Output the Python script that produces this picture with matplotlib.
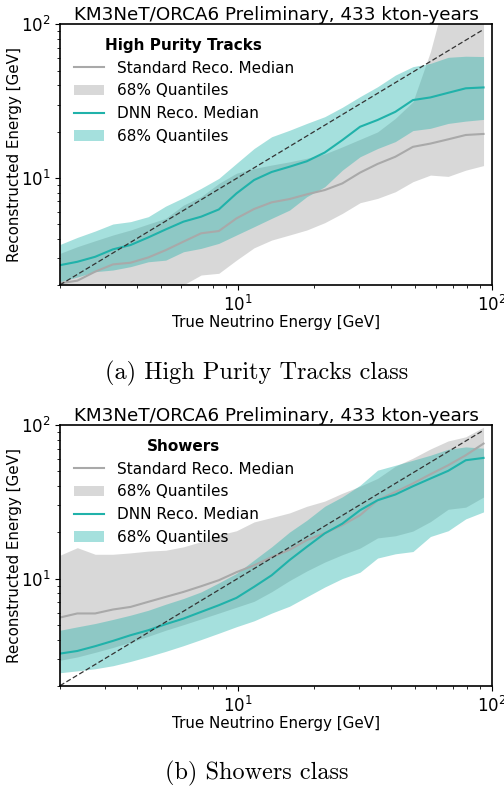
import numpy as np
import matplotlib
matplotlib.use("Agg")
import matplotlib.pyplot as plt

# True neutrino energy (bin positions, GeV)
energy = [2.0, 2.34, 2.75, 3.23, 3.79, 4.45, 5.21, 6.12, 7.18, 8.43, 9.89, 11.6,
          13.6, 16.0, 18.7, 22.0, 25.8, 30.3, 35.5, 41.7, 48.9, 57.3, 67.3, 78.9, 92.7]

# ---- High Purity Tracks ----
trk_std_med = [2.05, 2.13, 2.44, 2.72, 2.79, 3.02, 3.37, 3.83, 4.34, 4.49, 5.43, 6.25,
               6.91, 7.26, 7.79, 8.31, 9.18, 10.8, 12.3, 13.7, 15.9, 16.7, 17.8, 19.0, 19.3]
trk_std_lo = [1.5, 1.55, 1.6, 1.7, 1.75, 1.8, 1.9, 2.0, 2.32, 2.38, 2.90, 3.49,
              3.92, 4.23, 4.56, 5.09, 5.85, 6.87, 7.33, 8.10, 9.42, 10.4, 10.2, 11.2, 12.0]
trk_std_hi = [3.21, 3.55, 3.88, 4.23, 4.56, 4.99, 5.43, 6.63, 7.52, 9.18, 10.7, 11.5,
              12.1, 12.7, 13.4, 14.3, 15.9, 17.8, 19.9, 24.4, 31.3, 66.4, 180.0, 250.0, 300.0]
trk_dnn_med = [2.69, 2.83, 3.05, 3.41, 3.64, 4.08, 4.60, 5.17, 5.57, 6.21, 7.9, 9.66,
               10.9, 11.8, 12.8, 14.6, 17.6, 21.5, 23.8, 26.9, 32.1, 33.4, 35.8, 38.3, 38.8]
trk_dnn_lo = [2.10, 2.25, 2.44, 2.50, 2.63, 2.83, 2.90, 3.29, 3.46, 3.73, 4.23, 4.79,
              5.43, 6.15, 7.52, 8.73, 11.2, 13.7, 15.5, 17.2, 20.3, 21.0, 22.6, 23.4, 24.0]
trk_dnn_hi = [3.67, 4.08, 4.49, 4.99, 5.17, 5.57, 6.53, 7.41, 8.52, 9.9, 12.4, 15.5,
              18.5, 20.4, 22.6, 25.0, 28.8, 33.8, 39.2, 46.7, 53.0, 55.7, 61.0, 62.0, 61.7]

# ---- Showers ----
shw_std_med = [5.57, 5.92, 5.92, 6.28, 6.53, 7.05, 7.59, 8.18, 8.91, 9.75, 11.0, 12.2,
               13.8, 15.4, 17.8, 19.8, 22.3, 25.9, 32.4, 36.7, 41.7, 47.9, 54.8, 63.7, 75.9]
shw_std_lo = [2.93, 3.08, 3.3, 3.55, 3.85, 4.2, 4.6, 5.0, 5.45, 5.95, 6.5, 7.1,
              8.2, 9.7, 11.2, 12.8, 14.3, 15.8, 18.4, 19.0, 20.4, 23.5, 28.3, 29.2, 34.0]
shw_std_hi = [14.2, 15.9, 14.4, 14.4, 14.7, 15.1, 15.3, 16.1, 17.4, 19.2, 20.5, 23.4,
              25.0, 26.8, 29.6, 32.0, 36.0, 40.0, 45.0, 54.0, 61.0, 70.0, 79.0, 84.0, 97.0]
shw_dnn_med = [3.24, 3.37, 3.62, 3.92, 4.27, 4.60, 5.04, 5.48, 6.06, 6.70, 7.48, 8.83,
               10.5, 13.2, 16.1, 19.7, 22.8, 27.9, 32.4, 35.3, 40.0, 44.9, 50.4, 59.1, 61.2]
shw_dnn_lo = [2.43, 2.5, 2.58, 2.7, 2.88, 3.1, 3.35, 3.65, 4.0, 4.4, 4.85, 5.3,
              5.95, 6.6, 7.6, 8.8, 10.0, 11.0, 13.6, 14.5, 15.0, 18.8, 20.5, 24.5, 27.2]
shw_dnn_hi = [4.6, 4.84, 5.09, 5.41, 5.77, 6.21, 6.80, 7.41, 8.18, 9.37, 10.8, 13.2,
              16.1, 20.1, 24.0, 29.6, 34.1, 40.6, 50.9, 54.8, 59.1, 63.7, 69.7, 72.2, 70.8]

title = "KM3NeT/ORCA6 Preliminary, 433 kton-years"
panels = [
    ("High Purity Tracks", "(a) High Purity Tracks class",
     trk_std_med, trk_std_lo, trk_std_hi, trk_dnn_med, trk_dnn_lo, trk_dnn_hi),
    ("Showers", "(b) Showers class",
     shw_std_med, shw_std_lo, shw_std_hi, shw_dnn_med, shw_dnn_lo, shw_dnn_hi),
]

TEAL = "#20b2aa"
fig = plt.figure(figsize=(5.04, 7.87), dpi=100)
axes_pos = [[0.119, 0.638, 0.857, 0.331], [0.119, 0.1287, 0.857, 0.331]]
caption_y = [1 - 373 / 787, 1 - 773 / 787]

for i, (ltitle, caption, smed, slo, shi, dmed, dlo, dhi) in enumerate(panels):
    ax = fig.add_axes(axes_pos[i])
    ax.fill_between(energy, slo, shi, color="grey", alpha=0.3, lw=0, label="68% Quantiles")
    ax.fill_between(energy, dlo, dhi, color=TEAL, alpha=0.4, lw=0, label="68% Quantiles")
    ax.plot(energy, smed, color="darkgrey", lw=1.5, label="Standard Reco. Median")
    ax.plot(energy, dmed, color=TEAL, lw=1.5, label="DNN Reco. Median")
    ax.plot(energy, energy, color="#333333", lw=0.9, ls=(0, (4, 2)))
    ax.set_xscale("log")
    ax.set_yscale("log")
    ax.set_xlim(2, 100)
    ax.set_ylim(2, 100)
    ax.set_title(title, fontsize=13.2, pad=2)
    ax.set_xlabel("True Neutrino Energy [GeV]", fontsize=10.9, labelpad=0)
    ax.set_ylabel("Reconstructed Energy [GeV]", fontsize=10.9, labelpad=-1)
    ax.tick_params(labelsize=12)
    for s in ax.spines.values():
        s.set_linewidth(1.2)
    h, l = ax.get_legend_handles_labels()
    order = [2, 0, 3, 1]
    leg = ax.legend([h[k] for k in order], [l[k] for k in order], loc="upper left",
                    frameon=False, fontsize=11, title=ltitle,
                    title_fontproperties={"weight": "bold", "size": 11})
    fig.text(0.51, caption_y[i], caption, ha="center", va="center",
             fontsize=17.5, family="cmr10")

fig.savefig("out.png", dpi=100)
